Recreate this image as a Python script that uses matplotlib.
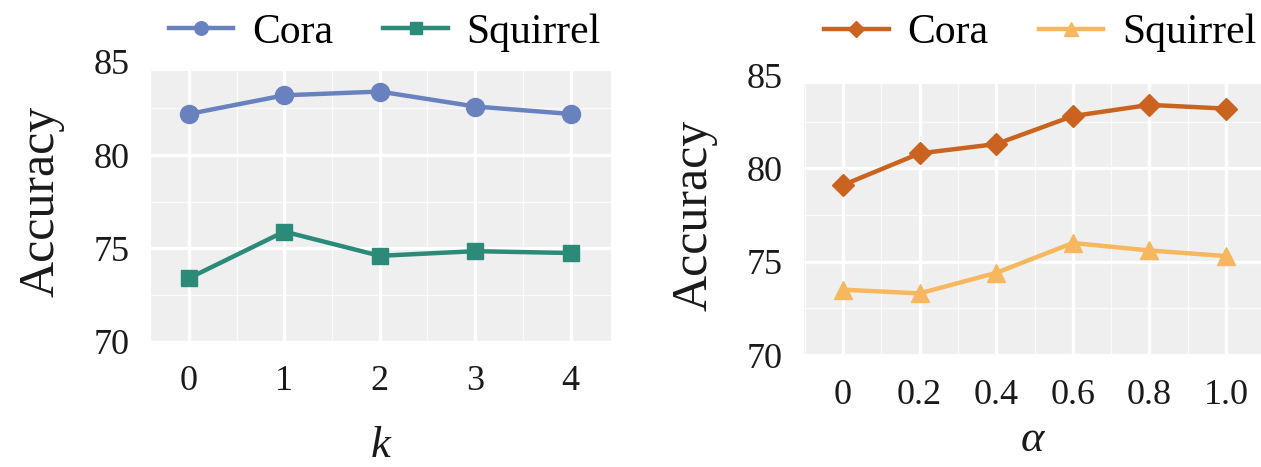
import matplotlib
matplotlib.use("Agg")
import matplotlib.pyplot as plt
from matplotlib.ticker import MultipleLocator

plt.rcParams['font.family'] = ['Liberation Serif', 'DejaVu Serif']

# data
k_vals = [0, 1, 2, 3, 4]
k_cora = [82.2, 83.2, 83.4, 82.6, 82.2]
k_squirrel = [73.4, 75.9, 74.6, 74.85, 74.75]

alpha_vals = [0, 0.2, 0.4, 0.6, 0.8, 1.0]
alpha_labels = ["0", "0.2", "0.4", "0.6", "0.8", "1.0"]
alpha_cora = [79.1, 80.8, 81.3, 82.8, 83.4, 83.2]
alpha_squirrel = [73.5, 73.3, 74.4, 76.0, 75.6, 75.3]

y_ticks = [70, 75, 80, 85]

W, H = 1261, 467
fig = plt.figure(figsize=(W / 100, H / 100), dpi=100)

# axes boxes in pixels: left, top(85 level), right, bottom(70 level)
ax1 = fig.add_axes([150.7 / W, (H - 341.7) / H, 460 / W, 280 / H])
ax2 = fig.add_axes([803.8 / W, (H - 355) / H, (W - 803.8) / W, 280 / H])

bg = '#efefef'

def style(ax, xlim, minor_step):
    ax.set_facecolor('white')
    ax.set_xlim(*xlim)
    ax.set_ylim(70, 85)
    ax.axhspan(70, 84.5, color=bg, zorder=0, lw=0)
    ax.set_axisbelow(True)
    ax.set_yticks(y_ticks)
    ax.xaxis.set_minor_locator(MultipleLocator(minor_step))
    ax.yaxis.set_minor_locator(MultipleLocator(2.5))
    ax.grid(which='major', color='white', lw=2.4)
    ax.grid(which='minor', color='white', lw=0.9, alpha=0.8)
    for s in ax.spines.values():
        s.set_visible(False)
    ax.tick_params(which='both', length=0, labelsize=26, colors='#1a1a1a')
    ax.tick_params(axis='y', pad=15)
    ax.tick_params(axis='x', pad=17)
    ax.set_ylabel('Accuracy', fontsize=36, labelpad=21, color='#1a1a1a')

# left panel: k
ax1.plot(k_vals, k_cora, '-o', color='#6982bf', lw=3.2, ms=13, label='Cora')
ax1.plot(k_vals, k_squirrel, '-s', color='#2b8a78', lw=3.2, ms=12, label='Squirrel')
style(ax1, (-0.4, 4.42), 0.5)
ax1.set_xticks(k_vals)
ax1.set_xlabel('k', fontsize=32, fontstyle='italic', labelpad=20, color='#1a1a1a')
ax1.legend(loc='center', bbox_to_anchor=(0.509, 1.105), ncol=2, frameon=False,
           fontsize=30, handlelength=1.55, handletextpad=0.45, columnspacing=1.2,
           markerscale=0.75)

# right panel: alpha
ax2.plot(alpha_vals, alpha_cora, '-D', color='#c9631f', lw=3.2, ms=11, label='Cora')
ax2.plot(alpha_vals, alpha_squirrel, '-^', color='#f7b75e', lw=3.2, ms=13, label='Squirrel')
style(ax2, (-0.102, 1.091), 0.1)
ax2.set_xticks(alpha_vals)
ax2.set_xticklabels(alpha_labels)
ax2.set_xlabel('α', fontsize=32, fontstyle='italic', labelpad=6, color='#1a1a1a')
ax2.legend(loc='center', bbox_to_anchor=(0.517, 1.15), ncol=2, frameon=False,
           fontsize=30, handlelength=1.55, handletextpad=0.45, columnspacing=1.2,
           markerscale=0.75)

fig.savefig('out.png', dpi=100)
